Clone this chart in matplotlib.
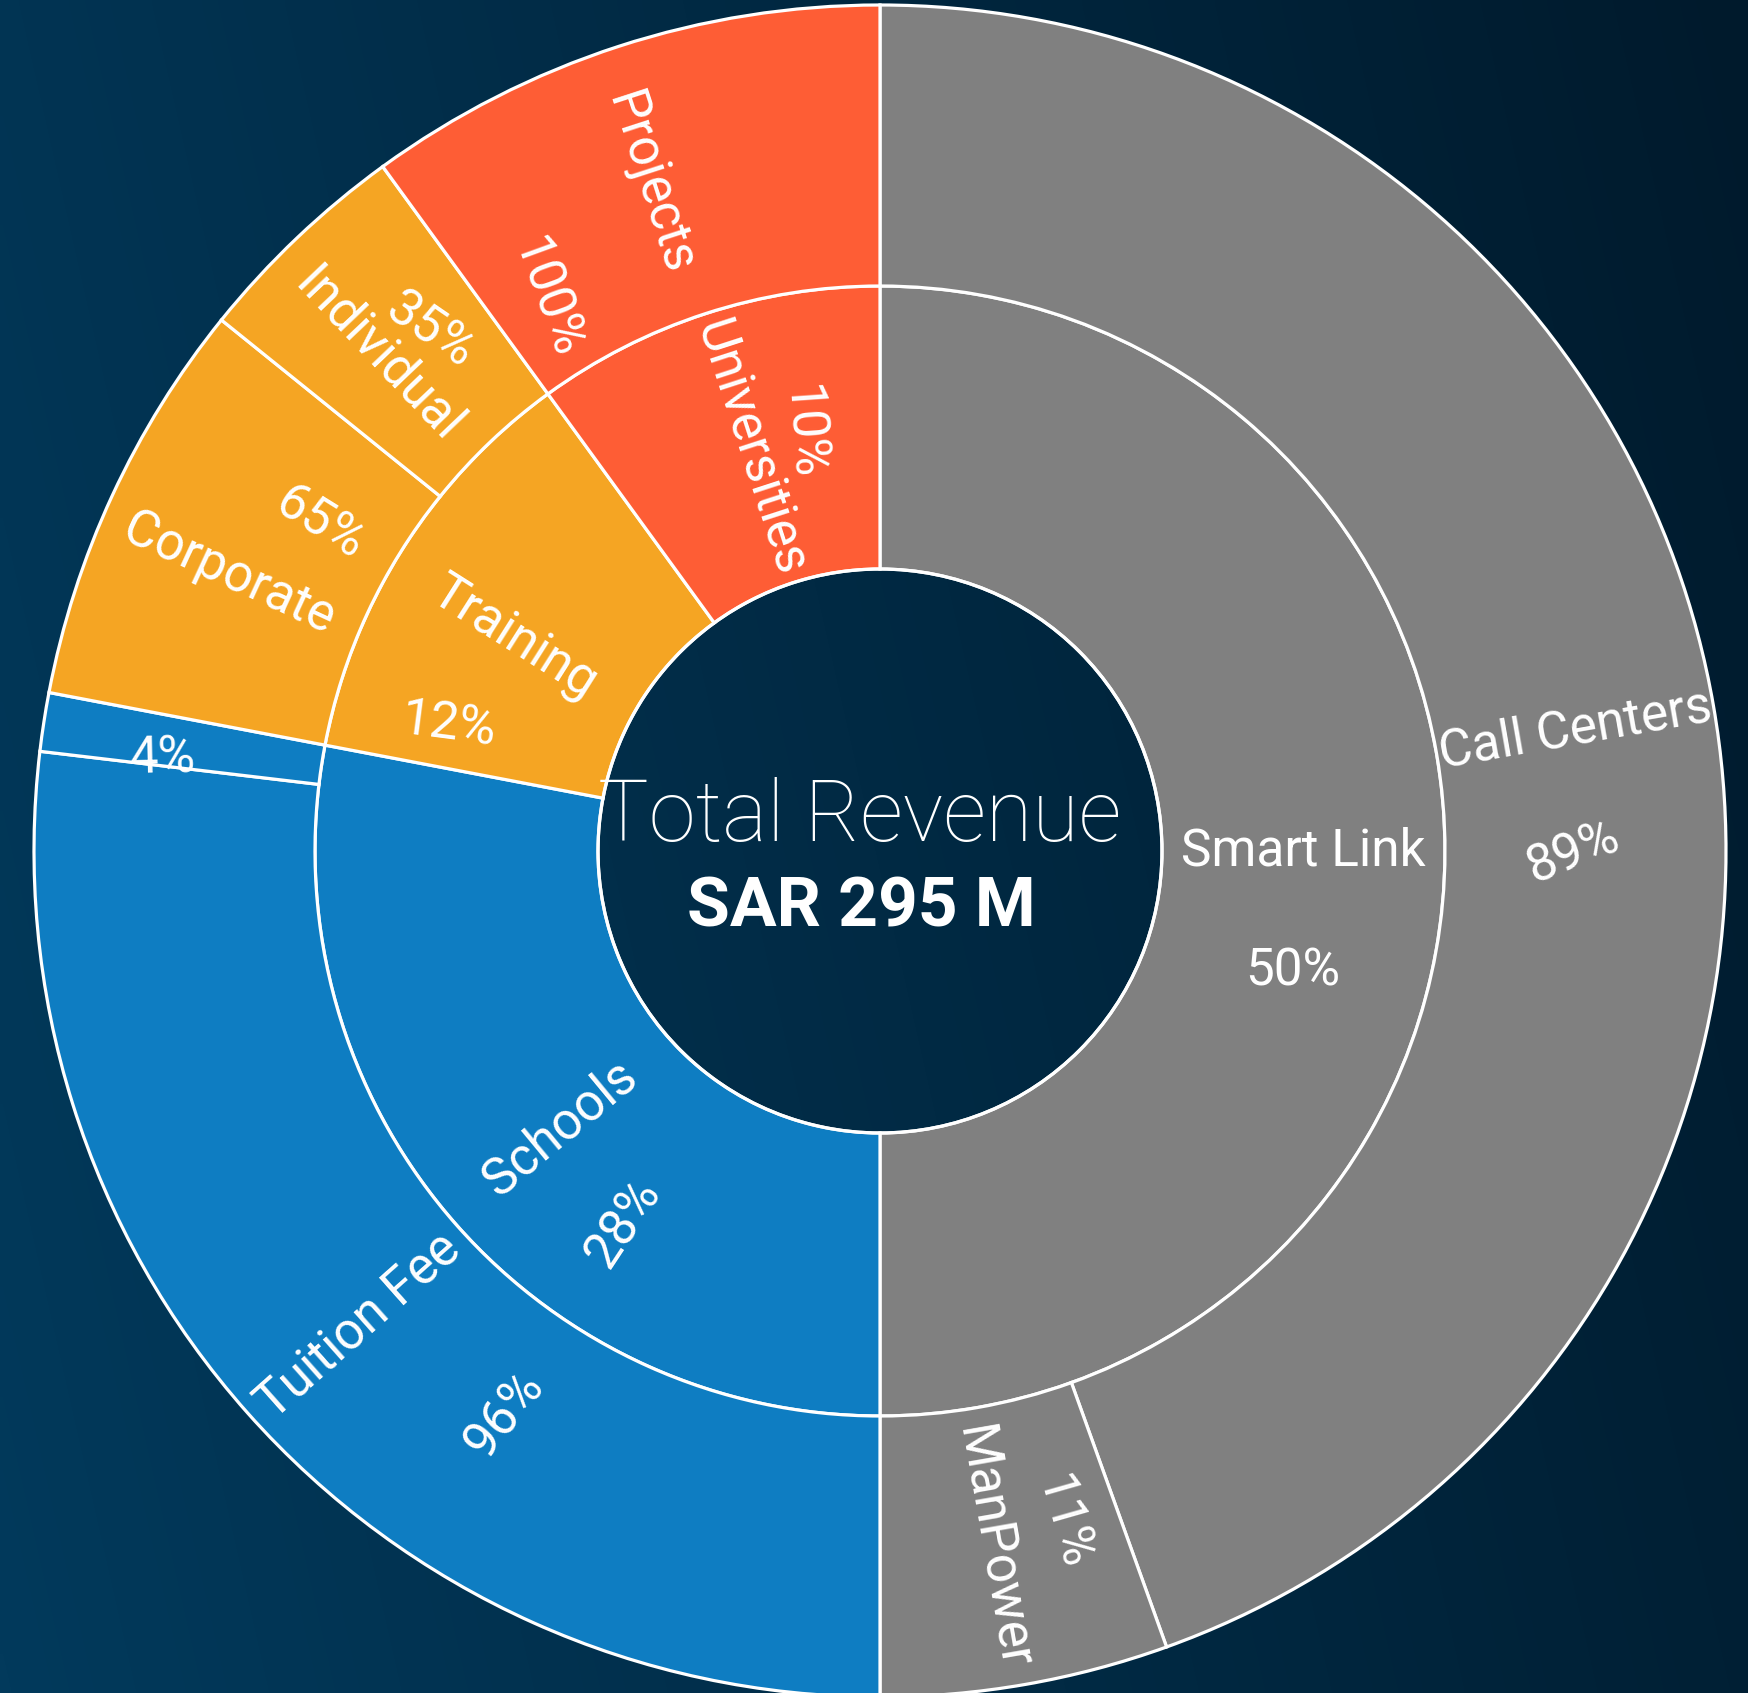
import numpy as np
import matplotlib
matplotlib.use("Agg")
import matplotlib.pyplot as plt
from matplotlib.patches import Wedge, Circle
from matplotlib.colors import LinearSegmentedColormap

# revenue split, inner ring (share of total, %)
segments = ["Smart Link", "Schools", "Training", "Universities"]
segment_share = [50, 28, 12, 10]

# outer ring, share of parent segment (%)
smart_link_items = ["Call Centers", "ManPower"]
smart_link_share = [89, 11]
schools_items = ["Tuition Fee", ""]
schools_share = [96, 4]
training_items = ["Corporate", "Individual"]
training_share = [65, 35]
universities_items = ["Projects"]
universities_share = [100]

total_title = "Total Revenue"
total_value = "SAR 295 M"

# ---------------------------------------------------------------- style
W, H = 1749, 1693
CX, CY = 880, H - 851
R_HOLE, R_MID, R_OUT = 282, 565, 846
EDGE = dict(edgecolor="white", linewidth=2.3)

SEG_COLORS = {
    "Smart Link": "#808080",
    "Schools": "#0E7DC2",
    "Training": "#F5A523",
    "Universities": "#FE5D35",
}
LABEL_FONT = ["Roboto", "DejaVu Sans"]
LABEL_SIZE = 37

# label placement relative to wedge centroid, in the rotated text frame:
# name (along, down), pct (along, down), extra rotation of the pct line
LAYOUT = {
    "Smart Link": ((0, 0), (-11, 121), 0),
    "Schools": ((0, 10), (-11, 124), 17),
    "Training": ((0, 17), (-8, 125), 25),
    "Universities": ((0, 0), (2, -56), -14),
    "Call Centers": ((0, 0), (-23, 121), 12),
    "ManPower": ((0, 8), (-12, -64), 6),
    "Tuition Fee": ((0, 10), (51, 172), 10),
    "": ((0, 0), (-18, 18), 10),
    "Corporate": ((-2, 22), (60, -62), -7),
    "Individual": ((0, 22), (19, -32), 12),
    "Projects": ((0, 14), (77, 146), 2),
}

children = {
    "Smart Link": (smart_link_items, smart_link_share),
    "Schools": (schools_items, schools_share),
    "Training": (training_items, training_share),
    "Universities": (universities_items, universities_share),
}


def readable(angle):
    """Radial text angle flipped so it never reads upside down."""
    a = (angle + 180) % 360 - 180
    if a > 90:
        a -= 180
    elif a < -90:
        a += 180
    return a


def offset(x, y, rot, along, down):
    t = np.radians(rot)
    return (x + along * np.cos(t) + down * np.sin(t),
            y + along * np.sin(t) - down * np.cos(t))


def put_label(ax, name, pct, mid, r_in, r_out):
    rm = (r_in + r_out) / 2
    x0 = CX + rm * np.cos(np.radians(mid))
    y0 = CY + rm * np.sin(np.radians(mid))
    rot = readable(mid)
    (na, nd), (pa, pd_), drot = LAYOUT[name]
    kw = dict(color="white", fontsize=LABEL_SIZE, family=LABEL_FONT,
              fontweight="normal", ha="center", va="center",
              rotation_mode="anchor", zorder=5)
    if name:
        nx, ny = offset(x0, y0, rot, na, nd)
        ax.text(nx, ny, name, rotation=rot, **kw)
    px, py = offset(x0, y0, rot, pa, pd_)
    ax.text(px, py, f"{pct}%", rotation=rot + drot, **kw)


fig = plt.figure(figsize=(W / 100, H / 100), dpi=100)
ax = fig.add_axes([0, 0, 1, 1])
ax.set_xlim(0, W)
ax.set_ylim(0, H)
ax.set_aspect("equal")
ax.axis("off")

# dark navy backdrop, lighter on the left
gx, gy = np.meshgrid(np.linspace(0, 1, 300), np.linspace(0, 1, 300))
grad = 0.82 * gx + 0.18 * gy
bg = LinearSegmentedColormap.from_list("bg", ["#023A5C", "#001A2C"])
ax.imshow(grad, cmap=bg, extent=(0, W, H, 0), origin="upper",
          aspect="auto", zorder=0, interpolation="bilinear")

start = 90.0
for seg, share in zip(segments, segment_share):
    span = 360 * share / 100
    a1, a0 = start, start - span
    col = SEG_COLORS[seg]
    ax.add_patch(Wedge((CX, CY), R_MID, a0, a1, width=R_MID - R_HOLE,
                       facecolor=col, zorder=2, **EDGE))
    put_label(ax, seg, share, (a0 + a1) / 2, R_HOLE, R_MID)

    items, shares = children[seg]
    s = a1
    for item, sub in zip(items, shares):
        sub_span = span * sub / 100
        b1, b0 = s, s - sub_span
        ax.add_patch(Wedge((CX, CY), R_OUT, b0, b1, width=R_OUT - R_MID,
                           facecolor=col, zorder=2, **EDGE))
        put_label(ax, item, sub, (b0 + b1) / 2, R_MID, R_OUT)
        s = b0
    start = a0

ax.add_patch(Circle((CX, CY), R_HOLE, facecolor="none", zorder=3, **EDGE))

ax.text(CX - 20, CY + 33, total_title, color="white", fontsize=61,
        family=LABEL_FONT, fontweight="light", ha="center", va="center",
        zorder=5)
ax.text(CX - 19, CY - 57, total_value, color="white", fontsize=50,
        family=["Roboto", "DejaVu Sans"], fontweight="bold",
        ha="center", va="center", zorder=5)

fig.savefig("out.png", dpi=100, facecolor="#012A45")
